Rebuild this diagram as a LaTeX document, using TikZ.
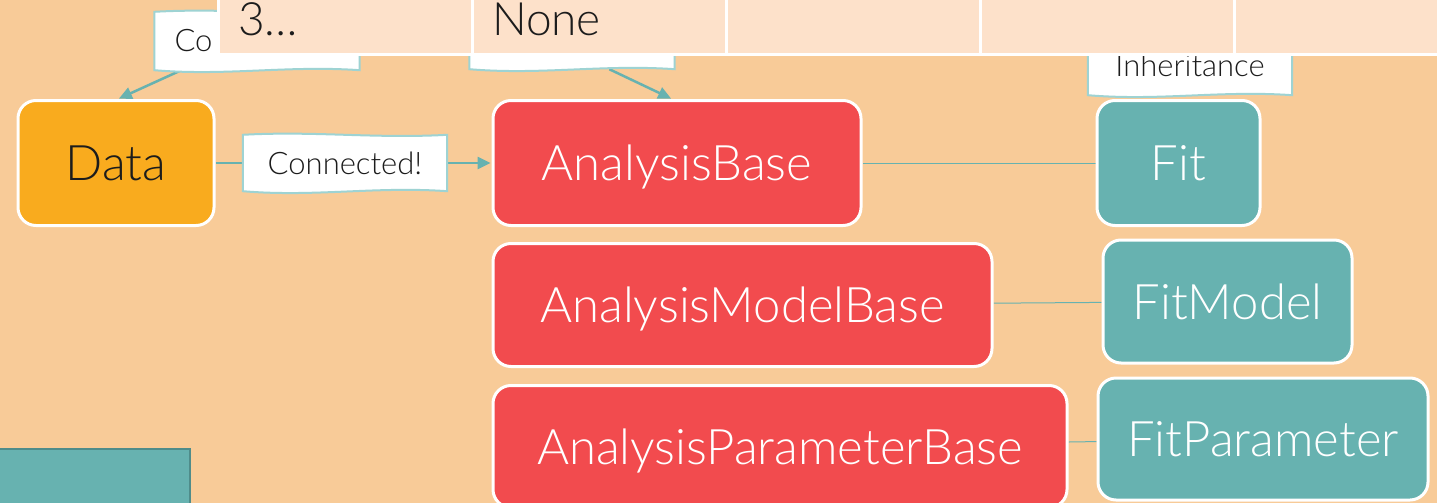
\documentclass[tikz,border=0pt]{standalone}
\usepackage{fontspec}
\setmainfont{Lato Light}
\usetikzlibrary{positioning,calc,arrows.meta}

\definecolor{bgtan}{HTML}{F8CB98}
\definecolor{barpeach}{HTML}{FDE1CA}
\definecolor{dataorange}{HTML}{F9AB1E}
\definecolor{basered}{HTML}{F24B4E}
\definecolor{fitteal}{HTML}{67B2B0}
\definecolor{tealdark}{HTML}{4F8C8A}
\definecolor{callline}{HTML}{9ED3D3}
\definecolor{inkdark}{HTML}{1C1C1C}

\pgfdeclarelayer{links}
\pgfdeclarelayer{boxes}
\pgfdeclarelayer{top}
\pgfsetlayers{links,boxes,main,top}

\tikzset{
  block/.style={draw=white, line width=3pt, rounded corners=18pt, inner sep=0pt,
    text height=35pt, text depth=0pt, font=\fontsize{49}{52}\selectfont},
  databox/.style={block, fill=dataorange, text=inkdark},
  basebox/.style={block, fill=basered, text=white},
  fitbox/.style={block, fill=fitteal, text=white},
  callout/.style={inner sep=0pt, text height=22pt, text depth=0pt, text=inkdark,
    font=\fontsize{31}{34}\selectfont},
  link/.style={draw=fitteal, line width=2.5pt, shorten >=1pt,
    -{Triangle[length=13pt,width=12pt]}},
  inherit/.style={draw=fitteal, line width=1pt},
  cell/.style={fill=barpeach, draw=white, line width=3pt, anchor=north west,
    outer sep=0pt, minimum height=71pt, inner xsep=20pt, inner ysep=0pt,
    text width=214pt, text height=33pt, text depth=0pt, align=left,
    text=inkdark, font=\fontsize{46}{50}\selectfont}
}

% white callout with wavy edges, drawn below the text of node #1
\newcommand{\wavebox}[1]{%
  \begin{pgfonlayer}{boxes}
    \filldraw[fill=white, draw=callline, line width=2pt]
      (#1.north west) .. controls ($(#1.north west)!0.35!(#1.north east)+(0,-4)$)
        and ($(#1.north west)!0.65!(#1.north east)+(0,4)$) .. (#1.north east)
      -- (#1.south east) .. controls ($(#1.south west)!0.65!(#1.south east)+(0,-5)$)
        and ($(#1.south west)!0.35!(#1.south east)+(0,6)$) .. (#1.south west) -- cycle;
  \end{pgfonlayer}}

\begin{document}
\begin{tikzpicture}[x=1pt, y=-1pt]
  \useasboundingbox (0,0) rectangle (1437,503);

  % classes
  \node[databox, minimum width=196pt, minimum height=125pt] (data) at (116,163) {Data};
  \node[basebox, minimum width=368pt, minimum height=125pt] (base) at (677,163) {AnalysisBase};
  \node[basebox, minimum width=499pt, minimum height=123pt, below=15pt of base.south west, anchor=north west] (modelbase) {AnalysisModelBase};
  \node[basebox, minimum width=574pt, minimum height=122pt, below=16pt of modelbase.south west, anchor=north west] (parambase) {AnalysisParameterBase};
  \node[fitbox, minimum width=163pt, minimum height=125pt] (fit) at (1178.5,163) {Fit};
  \node[fitbox, minimum width=249pt, minimum height=123pt] (fitmodel) at (1227.5,301.5) {FitModel};
  \node[fitbox, minimum width=330pt, minimum height=122pt] (fitparam) at (1263,439) {FitParameter};

  % labels
  \node[callout, minimum width=205pt, minimum height=58pt, inner xsep=20pt, text width=165pt, align=left] (callA) at (257,41) {Co};
  \node[callout, minimum width=205pt, minimum height=58pt] (callB) at (572,40) {};
  \node[callout, minimum width=204pt, minimum height=58pt] (callC) at (1190,66) {Inheritance};
  \node[callout, minimum width=204pt, minimum height=56pt] (callD) at (345,163) {Connected!};
  \wavebox{callA}
  \wavebox{callB}
  \wavebox{callC}
  \wavebox{callD}

  \begin{pgfonlayer}{links}
    \fill[bgtan] (0,0) rectangle (1437,503);
    \draw[link] (data) -- (base);
    \draw[link] ([xshift=27pt]callA.south west) -- ([xshift=2pt]data.north);
    \draw[link] ([xshift=140pt]callB.south west) -- ([xshift=-5pt]base.north);
    \draw[inherit] (base) -- (fit);
    \draw[inherit] (modelbase) -- (fitmodel);
    \draw[inherit] (parambase) -- (fitparam);
  \end{pgfonlayer}

  \draw[fill=fitteal, draw=tealdark, line width=2pt] (-5,449) rectangle (190,510);

  % top bar
  \begin{pgfonlayer}{top}
    \node[cell] (cellA) at (218,-16) {3…};
    \node[cell, right=0pt of cellA.north east, anchor=north west] (cellB) {None};
    \node[cell, right=0pt of cellB.north east, anchor=north west] (cellC) {};
    \node[cell, right=0pt of cellC.north east, anchor=north west] (cellD) {};
    \node[cell, right=0pt of cellD.north east, anchor=north west] (cellE) {};
  \end{pgfonlayer}
\end{tikzpicture}
\end{document}
